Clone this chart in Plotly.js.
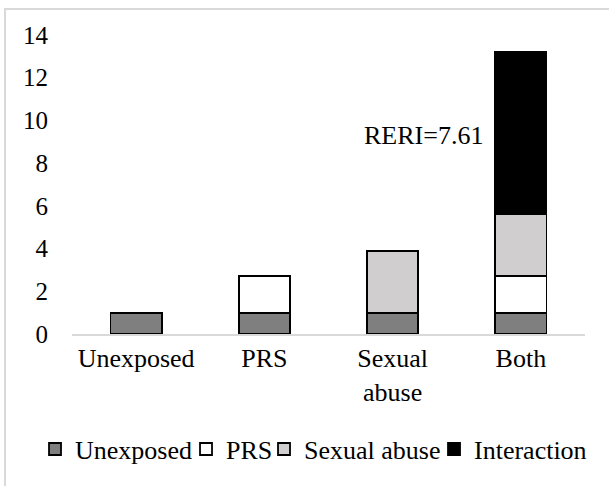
<!DOCTYPE html>
<html>
<head>
<meta charset="utf-8">
<script src="https://cdn.plot.ly/plotly-3.0.1.min.js"></script>
<style>
html,body{margin:0;padding:0;background:#fff;}
#chart{position:absolute;left:0;top:0;width:609px;height:486px;}
#frame{position:absolute;left:4px;top:8px;width:620px;height:500px;border-left:2px solid #d9d9d9;border-top:2px solid #d9d9d9;pointer-events:none;z-index:10;}
</style>
</head>
<body>
<div id="chart"></div>
<div id="frame"></div>
<script>
const categories = ["Unexposed", "PRS", "Sexual<br>abuse", "Both"];
const seriesNames = ["Unexposed", "PRS", "Sexual abuse", "Interaction"];
const unexposedVals = [1, 1, 1, 1];
const prsVals = [null, 1.7, null, 1.7];
const sexualAbuseVals = [null, null, 2.9, 2.9];
const interactionVals = [null, null, null, 7.61];
const yTicks = [0, 2, 4, 6, 8, 10, 12, 14];
const reriLabel = "RERI=7.61";
const reriY = 9.3;

const colors = ["#7f7f7f", "#ffffff", "#d0cece", "#000000"];
const legendWidths = [106, 33, 125, 115];
const allVals = [unexposedVals, prsVals, sexualAbuseVals, interactionVals];

const font = "Liberation Serif";

const traces = allVals.map((v, i) => ({
  type: "bar",
  name: seriesNames[i],
  x: categories,
  y: v,
  legendwidth: legendWidths[i],
  marker: {color: colors[i], line: {color: "#000000", width: 1.8}},
  hoverinfo: "skip"
}));

const layout = {
  width: 609,
  height: 486,
  barmode: "stack",
  bargap: 0.6,
  paper_bgcolor: "#ffffff",
  plot_bgcolor: "#ffffff",
  margin: {l: 72, r: 24, t: 35, b: 152, autoexpand: false},
  font: {family: font, size: 26, color: "#000000"},
  xaxis: {
    showgrid: false,
    showline: true,
    linecolor: "#d9d9d9",
    linewidth: 1.5,
    ticks: "",
    tickangle: 0,
    automargin: false,
    tickfont: {family: font, size: 26, color: "#000000"},
    fixedrange: true
  },
  yaxis: {
    range: [0, 14],
    tickvals: yTicks,
    ticktext: yTicks.map(String),
    showgrid: false,
    zeroline: false,
    showline: false,
    ticks: "",
    automargin: false,
    ticklabelstandoff: 23,
    tickfont: {family: font, size: 25, color: "#000000"},
    fixedrange: true
  },
  showlegend: true,
  legend: {
    orientation: "h",
    xref: "paper",
    yref: "paper",
    x: -0.0721,
    xanchor: "left",
    y: -0.385,
    yanchor: "middle",
    font: {family: font, size: 26, color: "#000000"},
    traceorder: "normal",
    itemclick: false
  },
  annotations: [{
    x: "Both",
    y: reriY,
    xref: "x",
    yref: "y",
    text: reriLabel,
    showarrow: false,
    xanchor: "right",
    yanchor: "middle",
    xshift: -36,
    font: {family: font, size: 26, color: "#000000"}
  }]
};

Plotly.newPlot("chart", traces, layout, {displayModeBar: false, staticPlot: true});
</script>
</body>
</html>
